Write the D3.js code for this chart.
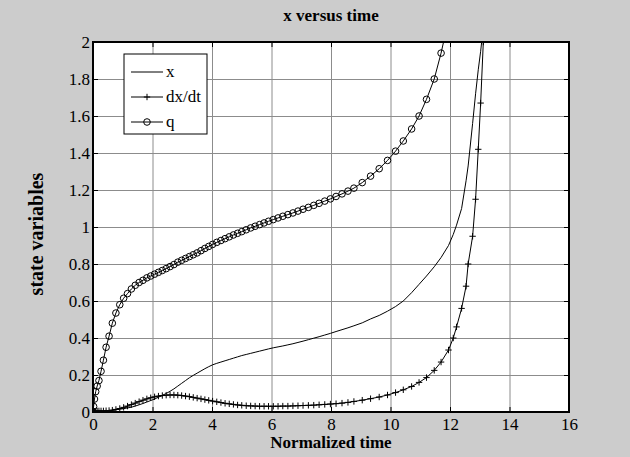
<!DOCTYPE html>
<html>
<head>
<meta charset="utf-8">
<script src="https://cdn.jsdelivr.net/npm/d3@7"></script>
<style>
  html, body { margin: 0; padding: 0; background: #cccccc; }
  svg { display: block; }
  text { font-family: "Liberation Serif", "Times New Roman", serif; fill: #000; }
</style>
</head>
<body>
<div id="chart"></div>
<script>
// solver output times (shared by all three series)
const time = [0, 0.02, 0.05, 0.09, 0.14, 0.2, 0.27, 0.35, 0.44, 0.54, 0.65, 0.77, 0.9, 1.03, 1.16, 1.29, 1.42, 1.55, 1.68, 1.81, 1.94,
  2.07, 2.2, 2.33, 2.46, 2.59, 2.72, 2.85, 2.98, 3.11, 3.24, 3.37, 3.5, 3.63, 3.76, 3.89, 4.02, 4.16, 4.3, 4.44, 4.58, 4.72, 4.86,
  5.0, 5.15, 5.3, 5.45, 5.6, 5.75, 5.9, 6.06, 6.22, 6.38, 6.55, 6.72, 6.89, 7.06, 7.24, 7.42, 7.6, 7.79, 7.98, 8.17, 8.37, 8.57,
  8.77, 9.05, 9.33, 9.62, 9.9, 10.17, 10.43, 10.71, 10.96, 11.21, 11.47, 11.7, 11.95, 12.11, 12.22, 12.39, 12.54, 12.61, 12.76,
  12.86, 12.95, 13.03, 13.12];

const xValues = [0, 0, 0, 0.001, 0.001, 0.002, 0.003, 0.004, 0.005, 0.007, 0.009, 0.012, 0.015, 0.018, 0.022, 0.026, 0.032, 0.039, 0.046, 0.054, 0.062,
  0.07, 0.08, 0.09, 0.1, 0.112, 0.125, 0.14, 0.155, 0.17, 0.185, 0.198, 0.21, 0.222, 0.234, 0.245, 0.255, 0.263, 0.27, 0.277, 0.284, 0.291, 0.298,
  0.305, 0.311, 0.317, 0.323, 0.329, 0.335, 0.341, 0.347, 0.352, 0.357, 0.363, 0.369, 0.376, 0.383, 0.391, 0.399, 0.407, 0.416, 0.425, 0.435, 0.445, 0.455,
  0.466, 0.482, 0.503, 0.522, 0.545, 0.57, 0.6, 0.645, 0.69, 0.735, 0.785, 0.835, 0.9, 0.96, 1.01, 1.1, 1.25, 1.33, 1.56,
  1.72, 1.85, 1.95, 2.08];

const dxdtValues = [0, 0.002, 0.004, 0.005, 0.006, 0.006, 0.006, 0.006, 0.007, 0.008, 0.01, 0.014, 0.019, 0.025, 0.032, 0.04, 0.048, 0.056, 0.064, 0.071, 0.077,
  0.082, 0.086, 0.089, 0.091, 0.092, 0.092, 0.091, 0.089, 0.086, 0.083, 0.079, 0.075, 0.071, 0.067, 0.063, 0.059, 0.055, 0.051, 0.047, 0.044, 0.041, 0.038,
  0.036, 0.034, 0.033, 0.032, 0.031, 0.031, 0.031, 0.031, 0.031, 0.032, 0.032, 0.033, 0.034, 0.035, 0.036, 0.037, 0.039, 0.041, 0.043, 0.045, 0.048, 0.052,
  0.057, 0.064, 0.072, 0.081, 0.092, 0.105, 0.12, 0.138, 0.16, 0.186, 0.225, 0.27, 0.335, 0.4, 0.46, 0.56, 0.68, 0.8, 0.95,
  1.15, 1.42, 1.67, 2.0];

const qValues = [0, 0.03, 0.07, 0.11, 0.14, 0.17, 0.22, 0.28, 0.35, 0.41, 0.48, 0.535, 0.58, 0.615, 0.64, 0.665, 0.685, 0.7, 0.712, 0.725, 0.735,
  0.745, 0.755, 0.765, 0.775, 0.786, 0.797, 0.81, 0.82, 0.83, 0.84, 0.85, 0.86, 0.872, 0.884, 0.895, 0.906, 0.917, 0.927, 0.937, 0.947, 0.957, 0.966,
  0.975, 0.985, 0.995, 1.004, 1.013, 1.022, 1.031, 1.04, 1.049, 1.058, 1.067, 1.076, 1.086, 1.096, 1.106, 1.117, 1.128, 1.14, 1.152, 1.165, 1.179, 1.194,
  1.21, 1.24, 1.275, 1.315, 1.36, 1.41, 1.465, 1.53, 1.6, 1.69, 1.8, 1.94, 2.12, null, null, null, null, null, null,
  null, null, null, null];

const xTicks = [0, 2, 4, 6, 8, 10, 12, 14, 16];
const yTicks = [0, 0.2, 0.4, 0.6, 0.8, 1, 1.2, 1.4, 1.6, 1.8, 2];
const legendLabels = ["x", "dx/dt", "q"];

const W = 630, H = 457;
const plot = {left: 93, right: 569, top: 42, bottom: 412};

const svg = d3.select("#chart").append("svg")
  .attr("width", W)
  .attr("height", H);

svg.append("rect").attr("width", W).attr("height", H).attr("fill", "#cccccc");

const xScale = d3.scaleLinear().domain([0, 16]).range([plot.left, plot.right]);
const yScale = d3.scaleLinear().domain([0, 2]).range([plot.bottom, plot.top]);

// white axes area
svg.append("rect")
  .attr("x", plot.left).attr("y", plot.top)
  .attr("width", plot.right - plot.left).attr("height", plot.bottom - plot.top)
  .attr("fill", "#fff");

// grid
const gridX = svg.append("g")
  .attr("transform", `translate(0,${plot.bottom})`)
  .call(d3.axisBottom(xScale).tickValues(xTicks).tickSize(-(plot.bottom - plot.top)).tickFormat(""));
const gridY = svg.append("g")
  .attr("transform", `translate(${plot.left},0)`)
  .call(d3.axisLeft(yScale).tickValues(yTicks).tickSize(-(plot.right - plot.left)).tickFormat(""));
[gridX, gridY].forEach(g => {
  g.select(".domain").remove();
  g.selectAll("line").attr("stroke", "#8c8c8c").attr("stroke-width", 1);
});

// clip for the curves
svg.append("clipPath").attr("id", "plotClip")
  .append("rect")
  .attr("x", plot.left).attr("y", plot.top)
  .attr("width", plot.right - plot.left).attr("height", plot.bottom - plot.top);

const curves = svg.append("g").attr("clip-path", "url(#plotClip)");

const series = [
  {name: "x", values: xValues, marker: null},
  {name: "dx/dt", values: dxdtValues, marker: "plus"},
  {name: "q", values: qValues, marker: "circle"}
];

const line = d3.line()
  .defined(d => d.v !== null)
  .x(d => xScale(d.t))
  .y(d => yScale(d.v));

const plusPath = "M-3.2,0H3.2M0,-3.2V3.2";

series.forEach(s => {
  const pts = time.map((t, i) => ({t: t, v: s.values[i]}));
  curves.append("path")
    .datum(pts)
    .attr("fill", "none")
    .attr("stroke", "#000")
    .attr("stroke-width", 1)
    .attr("d", line);

  const shown = pts.filter(d => d.v !== null);
  if (s.marker === "plus") {
    curves.selectAll(null).data(shown).join("path")
      .attr("transform", d => `translate(${xScale(d.t)},${yScale(d.v)})`)
      .attr("d", plusPath)
      .attr("stroke", "#000")
      .attr("stroke-width", 1)
      .attr("fill", "none");
  } else if (s.marker === "circle") {
    curves.selectAll(null).data(shown).join("circle")
      .attr("cx", d => xScale(d.t))
      .attr("cy", d => yScale(d.v))
      .attr("r", 3.3)
      .attr("stroke", "#000")
      .attr("stroke-width", 1)
      .attr("fill", "none");
  }
});

// axes with inward ticks
const fmt = d3.format("~g");
const axisB = svg.append("g")
  .attr("transform", `translate(0,${plot.bottom})`)
  .call(d3.axisBottom(xScale).tickValues(xTicks).tickSizeInner(-5).tickSizeOuter(0).tickPadding(6).tickFormat(fmt));
const axisT = svg.append("g")
  .attr("transform", `translate(0,${plot.top})`)
  .call(d3.axisTop(xScale).tickValues(xTicks).tickSizeInner(-5).tickSizeOuter(0).tickFormat(""));
const axisL = svg.append("g")
  .attr("transform", `translate(${plot.left},0)`)
  .call(d3.axisLeft(yScale).tickValues(yTicks).tickSizeInner(-5).tickSizeOuter(0).tickPadding(3).tickFormat(fmt));
const axisR = svg.append("g")
  .attr("transform", `translate(${plot.right},0)`)
  .call(d3.axisRight(yScale).tickValues(yTicks).tickSizeInner(-5).tickSizeOuter(0).tickFormat(""));

[axisB, axisT, axisL, axisR].forEach(g => {
  g.select(".domain").remove();
  g.selectAll("line").attr("stroke", "#000").attr("stroke-width", 1);
  g.selectAll("text")
    .style("font-family", "'Liberation Serif', 'Times New Roman', serif")
    .style("font-size", "17px")
    .attr("fill", "#000");
});

// axes box
svg.append("rect")
  .attr("x", plot.left).attr("y", plot.top)
  .attr("width", plot.right - plot.left).attr("height", plot.bottom - plot.top)
  .attr("fill", "none")
  .attr("stroke", "#000")
  .attr("stroke-width", 2);

// title and axis labels
svg.append("text")
  .attr("x", (plot.left + plot.right) / 2)
  .attr("y", 21)
  .attr("text-anchor", "middle")
  .attr("font-size", "17px")
  .attr("font-weight", "bold")
  .text("x versus time");

svg.append("text")
  .attr("x", (plot.left + plot.right) / 2)
  .attr("y", 448)
  .attr("text-anchor", "middle")
  .attr("font-size", "17px")
  .attr("font-weight", "bold")
  .text("Normalized time");

svg.append("text")
  .attr("transform", "rotate(-90)")
  .attr("x", -234)
  .attr("y", 43)
  .attr("text-anchor", "middle")
  .attr("font-size", "20px")
  .attr("font-weight", "bold")
  .text("state variables");

// legend
const legend = svg.append("g");
legend.append("rect")
  .attr("x", 124).attr("y", 54)
  .attr("width", 83).attr("height", 80)
  .attr("fill", "#fff")
  .attr("stroke", "#000")
  .attr("stroke-width", 1);

const legendY = [72, 97, 122];
series.forEach((s, i) => {
  const ly = legendY[i];
  legend.append("line")
    .attr("x1", 131).attr("x2", 163)
    .attr("y1", ly).attr("y2", ly)
    .attr("stroke", "#000").attr("stroke-width", 1);
  if (s.marker === "plus") {
    legend.append("path")
      .attr("transform", `translate(147,${ly})`)
      .attr("d", plusPath)
      .attr("stroke", "#000").attr("fill", "none");
  } else if (s.marker === "circle") {
    legend.append("circle")
      .attr("cx", 147).attr("cy", ly).attr("r", 3.3)
      .attr("stroke", "#000").attr("fill", "none");
  }
  legend.append("text")
    .attr("x", 166)
    .attr("y", ly)
    .attr("dy", "0.32em")
    .attr("font-size", "17px")
    .text(legendLabels[i]);
});
</script>
</body>
</html>
